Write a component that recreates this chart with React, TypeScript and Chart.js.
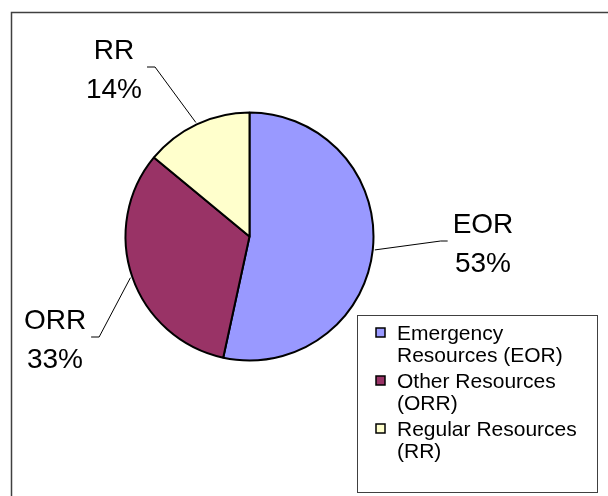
import React, { useEffect, useRef } from "react";
import { Chart, registerables } from "chart.js";

Chart.register(...registerables);

// ---- data ----
const categories = [
  "Emergency Resources (EOR)",
  "Other Resources (ORR)",
  "Regular Resources (RR)",
];
const shortLabels = ["EOR", "ORR", "RR"];
const shares = [53.4, 32.6, 14.0];
const sliceColors = ["#9999FF", "#993366", "#FFFFCC"];

// ---- layout (label block centres relative to pie centre) ----
const labelOffsets: [number, number][] = [
  [233.5, 6],
  [-194.5, 102],
  [-135.5, -168],
];

const W = 608;
const H = 496;
const LABEL_FONT = '28px "Liberation Sans", Arial, sans-serif';
const LEGEND_FONT = '21px "Liberation Sans", Arial, sans-serif';

function wrap(ctx: CanvasRenderingContext2D, text: string, maxW: number): string[] {
  const words = text.split(" ");
  const lines: string[] = [];
  let cur = "";
  for (const w of words) {
    const t = cur ? cur + " " + w : w;
    if (cur && ctx.measureText(t).width > maxW) {
      lines.push(cur);
      cur = w;
    } else cur = t;
  }
  if (cur) lines.push(cur);
  return lines;
}

const decorPlugin = {
  id: "decor",
  afterDraw(chart: any) {
    const ctx: CanvasRenderingContext2D = chart.ctx;
    const meta = chart.getDatasetMeta(0);
    const arcs = meta.data;
    const total = shares.reduce((a, b) => a + b, 0);
    ctx.save();

    // outer frame
    ctx.strokeStyle = "#404040";
    ctx.lineWidth = 1.5;
    ctx.beginPath();
    ctx.moveTo(11.5, H);
    ctx.lineTo(11.5, 12.5);
    ctx.lineTo(W, 12.5);
    ctx.stroke();

    // data labels with leader lines
    ctx.font = LABEL_FONT;
    ctx.fillStyle = "#000";
    ctx.textAlign = "center";
    ctx.textBaseline = "alphabetic";
    arcs.forEach((arc: any, i: number) => {
      const p = arc.getProps(["x", "y", "startAngle", "endAngle", "outerRadius"], true);
      const mid = (p.startAngle + p.endAngle) / 2;
      const sx = p.x + Math.cos(mid) * (p.outerRadius + 2);
      const sy = p.y + Math.sin(mid) * (p.outerRadius + 2);
      const ax = p.x + labelOffsets[i][0];
      const ay = p.y + labelOffsets[i][1];
      const l1 = shortLabels[i];
      const l2 = Math.round((shares[i] / total) * 100) + "%";
      const w = Math.max(ctx.measureText(l1).width, ctx.measureText(l2).width);
      ctx.fillText(l1, ax, ay - 9.5);
      ctx.fillText(l2, ax, ay + 29);
      const right = ax > p.x;
      const endX = right ? ax - w / 2 - 5 : ax + w / 2 + 5;
      const elbowX = right ? endX - 7 : endX + 8;
      const ly = ay - 1.5;
      ctx.strokeStyle = "#000";
      ctx.lineWidth = 1;
      ctx.beginPath();
      ctx.moveTo(sx, sy);
      ctx.lineTo(elbowX, ly);
      ctx.lineTo(endX, ly);
      ctx.stroke();
    });

    // legend
    const box = { l: 357.5, t: 315.5, r: 597.5, b: 492.5 };
    ctx.fillStyle = "#fff";
    ctx.fillRect(box.l, box.t, box.r - box.l, box.b - box.t);
    ctx.strokeStyle = "#404040";
    ctx.lineWidth = 1;
    ctx.strokeRect(box.l, box.t, box.r - box.l, box.b - box.t);
    ctx.font = LEGEND_FONT;
    ctx.textAlign = "left";
    let base = 340;
    categories.forEach((cat, i) => {
      const lines = wrap(ctx, cat, 192);
      ctx.fillStyle = sliceColors[i];
      ctx.fillRect(376, base - 12, 9, 9);
      ctx.strokeStyle = "#000";
      ctx.lineWidth = 1.5;
      ctx.strokeRect(376, base - 12, 9, 9);
      ctx.fillStyle = "#000";
      lines.forEach((ln, j) => {
        ctx.fillText(ln, 397, base + j * 22);
      });
      base += 48;
    });

    ctx.restore();
  },
};

export default function App() {
  const ref = useRef<HTMLCanvasElement | null>(null);
  useEffect(() => {
    if (!ref.current) return;
    const chart = new Chart(ref.current, {
      type: "pie",
      data: {
        labels: categories,
        datasets: [
          {
            data: shares,
            backgroundColor: sliceColors,
            borderColor: "#000",
            borderWidth: 2,
          },
        ],
      },
      options: {
        responsive: false,
        animation: false,
        radius: 124,
        layout: { padding: { left: 0, right: 109, top: 0, bottom: 23 } },
        plugins: {
          legend: { display: false },
          tooltip: { enabled: false },
        },
      } as any,
      plugins: [decorPlugin],
    });
    return () => chart.destroy();
  }, []);
  return (
    <div style={{ position: "absolute", left: 0, top: 0, width: W, height: H, background: "#fff" }}>
      <canvas ref={ref} width={W} height={H} style={{ width: W, height: H, display: "block" }} />
    </div>
  );
}
